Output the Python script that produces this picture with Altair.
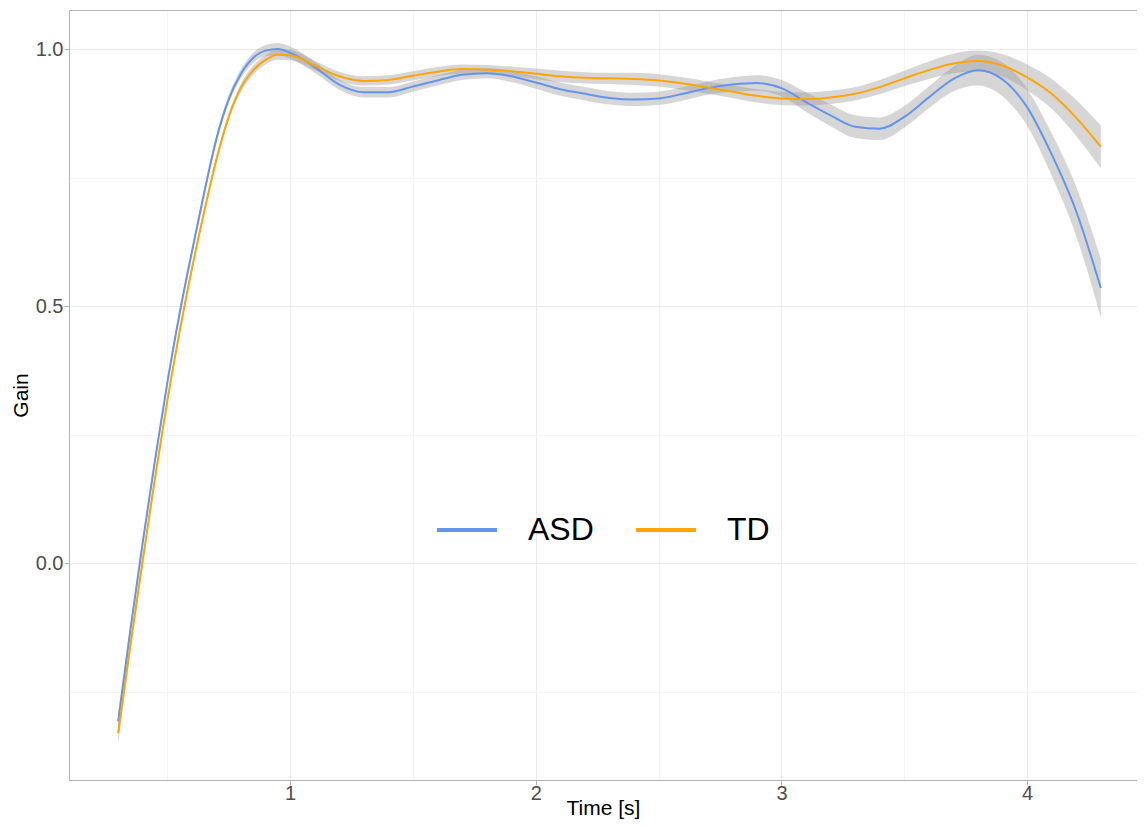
import altair as alt
import pandas as pd

time = [0.30, 0.35, 0.40, 0.45, 0.50, 0.55, 0.60, 0.65, 0.70, 0.75, 0.80, 0.85, 0.90, 0.95, 1.00,
        1.10, 1.20, 1.30, 1.40, 1.50, 1.60, 1.70, 1.80, 1.90, 2.00,
        2.10, 2.20, 2.30, 2.40, 2.50, 2.60, 2.70, 2.80, 2.90, 3.00,
        3.10, 3.20, 3.30, 3.40, 3.50, 3.60, 3.70, 3.80, 3.90, 4.00,
        4.10, 4.20, 4.30]

asd = [-0.308, -0.13, 0.04, 0.20, 0.35, 0.485, 0.605, 0.72, 0.825, 0.902, 0.952, 0.983, 0.997, 1.0, 0.993,
       0.965, 0.931, 0.916, 0.916, 0.927, 0.939, 0.950, 0.953, 0.947, 0.935,
       0.922, 0.913, 0.905, 0.902, 0.904, 0.913, 0.924, 0.931, 0.934, 0.924,
       0.897, 0.871, 0.849, 0.845, 0.868, 0.906, 0.942, 0.959, 0.941, 0.887,
       0.795, 0.684, 0.535]
asd_hw = [0.015, 0.012, 0.010, 0.008, 0.008, 0.008, 0.008, 0.008, 0.008, 0.008, 0.009, 0.010, 0.011, 0.012, 0.012,
          0.011, 0.010, 0.010, 0.010, 0.010, 0.010, 0.010, 0.010, 0.011, 0.012,
          0.013, 0.013, 0.013, 0.013, 0.013, 0.013, 0.013, 0.014, 0.015, 0.016,
          0.019, 0.021, 0.022, 0.022, 0.021, 0.021, 0.024, 0.030, 0.033, 0.036,
          0.041, 0.048, 0.057]

td = [-0.331, -0.16, 0.005, 0.165, 0.315, 0.45, 0.572, 0.683, 0.785, 0.868, 0.925, 0.959, 0.979, 0.989, 0.988,
      0.968, 0.947, 0.938, 0.940, 0.948, 0.956, 0.961, 0.960, 0.957, 0.952,
      0.947, 0.944, 0.943, 0.942, 0.939, 0.933, 0.925, 0.917, 0.909, 0.904,
      0.903, 0.906, 0.913, 0.926, 0.943, 0.959, 0.972, 0.977, 0.968, 0.945,
      0.913, 0.866, 0.810]
td_hw = [0.020, 0.012, 0.009, 0.007, 0.007, 0.007, 0.007, 0.007, 0.007, 0.007, 0.008, 0.009, 0.009, 0.010, 0.010,
         0.009, 0.009, 0.009, 0.009, 0.009, 0.009, 0.009, 0.009, 0.009, 0.010,
         0.011, 0.011, 0.011, 0.012, 0.012, 0.012, 0.012, 0.012, 0.013, 0.013,
         0.013, 0.013, 0.013, 0.014, 0.015, 0.017, 0.019, 0.020, 0.022, 0.025,
         0.029, 0.035, 0.042]

groups = ["ASD", "TD"]
colors = ["#6495ED", "#FFA500"]
x_major = [1, 2, 3, 4]
x_minor = [0.5, 1.5, 2.5, 3.5]
y_major = [0.0, 0.5, 1.0]
y_minor = [-0.25, 0.25, 0.75]

rows = []
for g, vals, hws in (("ASD", asd, asd_hw), ("TD", td, td_hw)):
    for t, v, h in zip(time, vals, hws):
        rows.append({"time": t, "gain": v, "lo": v - h, "hi": v + h, "group": g})
df = pd.DataFrame(rows)

FONT = "Liberation Sans"
BORDER = "#b3b3b3"
xscale = alt.Scale(domain=[0.1, 4.4473], nice=False, zero=False)
yscale = alt.Scale(domain=[-0.422, 1.076], nice=False, zero=False)

# minor grid (and the top border line) on secondary axes
minor_x = alt.Axis(values=x_minor, orient="top", grid=True, gridColor="#f4f4f4", gridWidth=1,
                   labels=False, ticks=False, domain=True, domainColor=BORDER, domainWidth=1,
                   title=None)
minor_y = alt.Axis(values=y_minor, orient="right", grid=True, gridColor="#f4f4f4", gridWidth=1,
                   labels=False, ticks=False, domain=False, title=None)

major_x = alt.Axis(values=x_major, format="d", grid=True, gridColor="#ebebeb", gridWidth=1,
                   domain=True, domainColor=BORDER, domainWidth=1,
                   ticks=True, tickColor=BORDER, tickSize=5, tickWidth=1,
                   labelFont=FONT, labelFontSize=20, labelColor="#4d4d4d", labelPadding=-2,
                   title="Time [s]", titleFont=FONT, titleFontSize=21, titleColor="black",
                   titleFontWeight="normal", titleBaseline="alphabetic", titleY=34)
major_y = alt.Axis(values=y_major, format=".1f", grid=True, gridColor="#ebebeb", gridWidth=1,
                   domain=True, domainColor=BORDER, domainWidth=1,
                   ticks=True, tickColor=BORDER, tickSize=5, tickWidth=1,
                   labelFont=FONT, labelFontSize=20, labelColor="#4d4d4d", labelPadding=1,
                   title="Gain", titleFont=FONT, titleFontSize=21, titleColor="black",
                   titleFontWeight="normal", titlePadding=4)

area = alt.Chart(df).mark_area(interpolate="monotone", color="#999999", opacity=0.4).encode(
    x=alt.X("time:Q", scale=xscale, axis=minor_x),
    y=alt.Y("lo:Q", scale=yscale, axis=minor_y),
    y2=alt.Y2("hi:Q"),
    detail="group:N",
)

line = alt.Chart(df).mark_line(interpolate="monotone", strokeWidth=2).encode(
    x=alt.X("time:Q", scale=xscale, axis=major_x),
    y=alt.Y("gain:Q", scale=yscale, axis=major_y),
    color=alt.Color("group:N", scale=alt.Scale(domain=groups, range=colors),
                    legend=alt.Legend(title=None, orient="none", legendX=366, legendY=488,
                                      direction="horizontal", symbolType="stroke",
                                      symbolSize=3600, symbolStrokeWidth=4,
                                      labelFont=FONT, labelFontSize=32, labelColor="black",
                                      labelOffset=29, columnPadding=34, padding=0)),
)

chart = alt.layer(area, line).resolve_axis(x="independent", y="independent").properties(
    width=1068, height=770,
    autosize=alt.AutoSizeParams(type="none"),
    padding={"left": 61, "top": 2, "right": 0, "bottom": 39},
).configure_view(strokeWidth=0)

chart.save("out.html", embed_options={"renderer": "svg", "actions": False})
